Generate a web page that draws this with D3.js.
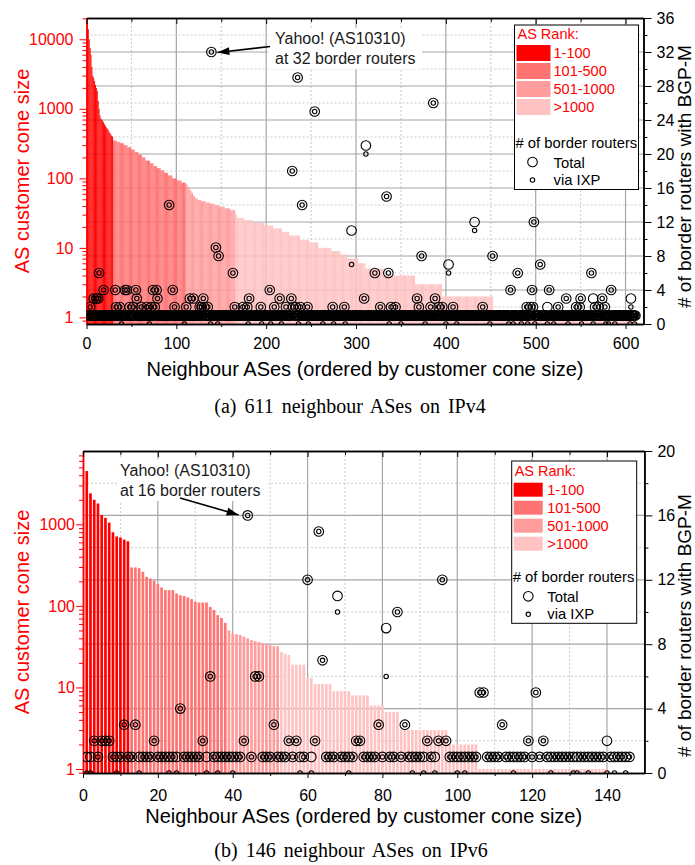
<!DOCTYPE html>
<html>
<head>
<meta charset="utf-8">
<script src="https://cdn.jsdelivr.net/npm/d3@7/dist/d3.min.js"></script>
<style>
  body { margin: 0; background: #fff; }
  svg { display: block; }
  .sans { font-family: "Liberation Sans", Arial, Helvetica, sans-serif; }
  .serif { font-family: "Liberation Serif", "Times New Roman", serif; }
</style>
</head>
<body>
<svg id="figure" width="695" height="865"></svg>
<script>
// ---- values ----

const rankLabels  = ["1-100", "101-500", "501-1000", ">1000"];
const rankColours = ["#ff0000", "#ff7373", "#ff9c9c", "#ffc3c3"];

// IPv4: customer cone size of the 611 neighbours, as [cone size, number of ASes]
const ipv4ConeRuns = [
  [30000, 1], [14000, 1], [10000, 1], [7500, 1], [6000, 1], [4000, 1], [3000, 1], [2800, 1],
  [2500, 1], [2200, 1], [2000, 1], [1800, 1], [1300, 1], [1000, 1], [800, 1], [720, 1],
  [700, 1], [680, 1], [640, 1], [600, 1], [570, 1], [540, 1], [520, 1], [500, 1],
  [470, 1], [450, 1], [430, 1], [410, 1], [400, 1],
  [350, 4], [335, 4], [320, 4], [300, 4], [280, 4], [260, 4], [240, 4], [220, 4], [200, 4],
  [180, 5], [165, 4], [150, 4], [140, 4], [130, 4], [120, 4], [110, 5], [100, 5], [93, 5],
  [87, 4], [85, 1],
  [82, 2], [75, 2], [68, 2], [62, 2], [56, 2], [52, 3], [49, 4], [47, 5], [45, 5], [43, 5],
  [41, 5], [39, 6], [37, 6], [35, 6],
  [30, 2], [27, 8], [25, 10], [23, 12], [21, 10], [19, 10], [17, 8], [15, 12], [13, 10],
  [12, 10], [10, 15], [9, 10], [8, 8], [7, 12], [6, 8], [5, 20], [4, 35], [3, 30], [2, 57],
  [1, 159]
];
// number of IPv4 neighbours in each AS rank group
const ipv4RankCounts = [29, 81, 55, 446];
// IPv4 neighbours seen at more than one border router: [AS #, total, via IXP]
const ipv4Routers = [
  [139, 32, 32], [235, 29, 29], [386, 26, 26], [254, 25, 25], [311, 21, 20], [229, 18, 18],
  [334, 15, 15], [92, 14, 14], [240, 14, 14], [432, 12, 11], [498, 12, 12], [295, 11, 7],
  [144, 9, 9], [147, 8, 8], [373, 8, 8], [452, 8, 8], [403, 7, 6], [505, 7, 7],
  [14, 6, 6], [163, 6, 6], [321, 6, 6], [336, 6, 6], [480, 6, 6], [562, 6, 6],
  [19, 4, 4], [32, 4, 4], [43, 4, 4], [45, 4, 4], [55, 4, 4], [74, 4, 4], [78, 4, 4],
  [96, 4, 4], [204, 4, 4], [472, 4, 4], [496, 4, 4], [515, 4, 4], [584, 4, 4],
  [8, 3, 3], [11, 3, 3], [13, 3, 3], [56, 3, 3], [79, 3, 3], [115, 3, 3], [119, 3, 3],
  [130, 3, 3], [181, 3, 3], [215, 3, 3], [228, 3, 3], [309, 3, 3], [368, 3, 3], [388, 3, 3],
  [534, 3, 3], [550, 3, 3], [564, 3, 0], [574, 3, 3], [606, 3, 2],
  [4, 2, 2], [33, 2, 2], [37, 2, 2], [48, 2, 2], [52, 2, 2], [61, 2, 2], [67, 2, 2],
  [72, 2, 2], [76, 2, 2], [98, 2, 2], [111, 2, 2], [126, 2, 2], [128, 2, 2], [131, 2, 2],
  [135, 2, 2], [165, 2, 2], [174, 2, 2], [179, 2, 2], [194, 2, 2], [209, 2, 2], [222, 2, 2],
  [230, 2, 2], [233, 2, 2], [238, 2, 2], [246, 2, 2], [274, 2, 2], [287, 2, 2], [327, 2, 2],
  [339, 2, 2], [344, 2, 2], [370, 2, 2], [383, 2, 2], [392, 2, 2], [396, 2, 2], [408, 2, 2],
  [441, 2, 2], [490, 2, 2], [494, 2, 2], [497, 2, 2], [513, 2, 0], [525, 2, 2], [545, 2, 2],
  [549, 2, 2], [566, 2, 2], [570, 2, 2], [577, 2, 2]
];
// IPv4 neighbours with a single border router that is not at an IXP
const ipv4NoIxp = [39, 70, 109, 138, 146, 180, 195, 205, 217, 236, 247, 263, 275, 288, 337,
  350, 377, 400, 412, 449, 470, 475, 484, 491, 499, 520, 536, 551, 578, 581, 588, 605, 610];

// IPv6: customer cone size of the 146 neighbours (0 = no bar drawn)
const ipv6Cone = [
  4500, 2400, 2000, 1800, 1300, 1200, 1050, 800, 710, 690, 650, 620,
  296, 296, 290, 262, 227, 217, 203, 185, 168, 156, 156, 156, 142, 135, 132, 127, 121, 113,
  110, 110, 110, 97, 89, 77, 71, 62,
  50, 46, 45, 44, 42, 40, 38, 37, 36, 35, 34, 33, 32, 32,
  27, 26, 25, 19, 19, 19, 19, 13, 13, 11, 11, 11, 11, 11, 9, 9, 9, 9, 9, 8, 8, 8, 8, 8,
  6, 6, 6, 6, 5, 5, 5, 5, 3, 3, 3, 3, 3, 3, 3, 3, 3, 3, 3, 3, 3, 2, 2, 2, 2, 2, 2, 2, 2,
  1, 1, 1, 1, 1, 1, 1, 1, 1, 1, 1, 1, 1, 1, 1, 1, 1, 1, 1, 1, 1, 1, 1, 1, 1, 1, 1, 1, 1, 1,
  1, 1, 1, 1, 1, 0, 0, 0, 0, 0, 0
];
const ipv6RankCounts = [12, 26, 14, 94];
const ipv6Routers = [
  [44, 16, 16], [63, 15, 15], [60, 12, 12], [96, 12, 12], [68, 11, 10], [84, 10, 10],
  [81, 9, 6], [64, 7, 7], [34, 6, 6], [46, 6, 6], [47, 6, 6], [106, 5, 5], [107, 5, 5],
  [121, 5, 5], [26, 4, 4], [11, 3, 3], [14, 3, 3], [51, 3, 3], [79, 3, 3], [86, 3, 3],
  [112, 3, 3],
  [3, 2, 2], [5, 2, 2], [6, 2, 2], [7, 2, 2], [19, 2, 2], [32, 2, 2], [43, 2, 2], [55, 2, 2],
  [57, 2, 2], [62, 2, 2], [73, 2, 2], [74, 2, 2], [92, 2, 2], [95, 2, 2], [97, 2, 2],
  [119, 2, 2], [123, 2, 2], [140, 2, 0]
];
const ipv6NoIxp = [1, 2, 9, 15, 23, 25, 33, 36, 40, 58, 61, 71, 88, 91, 94, 100, 102, 115,
  125, 131, 132, 135, 142, 145];

// ---- helpers ----

const svg = d3.select("#figure");

function expandRuns(runs) {
  return runs.flatMap(([value, count]) => Array(count).fill(value));
}

function rankGroups(counts) {
  return counts.flatMap((count, r) => Array(count).fill(r));
}

function routerTable(n, multi, noIxp) {
  const rows = d3.range(1, n + 1).map(k => ({k: k, total: 1, ixp: noIxp.includes(k) ? 0 : 1}));
  multi.forEach(([k, total, ixp]) => { rows[k - 1].total = total; rows[k - 1].ixp = ixp; });
  return rows;
}

function styleAxis(sel, colour, width) {
  sel.select(".domain").attr("stroke", colour).attr("stroke-width", width);
  sel.selectAll(".tick line").attr("stroke", colour).attr("stroke-width", 1);
  sel.selectAll(".tick text").attr("fill", colour).attr("font-size", 16)
    .attr("font-family", '"Liberation Sans", Arial, sans-serif');
}



// PANEL

function drawPanel(p)
{
  const x = d3.scaleLinear().domain(p.xDomain).range([p.left, p.right]);
  const yCone = d3.scaleLog().domain(p.coneDomain).range([p.bottom, p.top]);
  const yRout = d3.scaleLinear().domain(p.routerDomain).range([p.bottom, p.top]);

  const g = svg.append("g").attr("class", "sans");
  const clipId = p.id + "-clip";
  g.append("clipPath").attr("id", clipId).append("rect")
    .attr("x", p.left).attr("y", p.top)
    .attr("width", p.right - p.left).attr("height", p.bottom - p.top);

  // grid: solid on major ticks, dotted on minor ticks
  const isMajor = (d, step) => Math.abs(d / step - Math.round(d / step)) < 1e-6;
  const xGrid = d3.range(p.xStep / 2, p.xDomain[1], p.xStep / 2);
  const yGrid = d3.range(p.routerStep / 2, p.routerDomain[1], p.routerStep / 2);
  const grid = g.append("g");
  grid.selectAll(".vg").data(xGrid).join("line")
    .attr("x1", d => x(d)).attr("x2", d => x(d))
    .attr("y1", p.top).attr("y2", p.bottom)
    .attr("stroke", d => isMajor(d, p.xStep) ? "#a6a6a6" : "#cccccc")
    .attr("stroke-width", d => isMajor(d, p.xStep) ? 1.2 : 1)
    .attr("stroke-dasharray", d => isMajor(d, p.xStep) ? null : "2,2");
  grid.selectAll(".hg").data(yGrid).join("line")
    .attr("x1", p.left).attr("x2", p.right)
    .attr("y1", d => yRout(d)).attr("y2", d => yRout(d))
    .attr("stroke", d => isMajor(d, p.routerStep) ? "#a6a6a6" : "#cccccc")
    .attr("stroke-width", d => isMajor(d, p.routerStep) ? 1.2 : 1)
    .attr("stroke-dasharray", d => isMajor(d, p.routerStep) ? null : "2,2");

  // bars: customer cone size, coloured by AS rank group
  const bars = p.cone.map((v, i) => ({k: i + 1, v: v, r: p.rank[i]})).filter(d => d.v > 0);
  g.append("g").attr("clip-path", `url(#${clipId})`)
    .selectAll("rect").data(bars).join("rect")
    .attr("x", d => x(d.k - p.barWidth / 2))
    .attr("width", x(p.barWidth) - x(0))
    .attr("y", d => yCone(d.v))
    .attr("height", d => p.bottom - yCone(d.v))
    .attr("fill", d => rankColours[d.r]);

  // axes
  const logMinor = yCone.ticks().filter(d => Math.abs(Math.log10(d) - Math.round(Math.log10(d))) > 1e-6);
  const xMajor = d3.range(0, p.xDomain[1] + 1e-6, p.xStep);
  const xMinor = xGrid.filter(d => !isMajor(d, p.xStep));
  const rMajor = d3.range(0, p.routerDomain[1] + 1e-6, p.routerStep);
  const rMinor = yGrid.filter(d => !isMajor(d, p.routerStep));

  g.append("g").attr("transform", `translate(${p.left},0)`)
    .call(d3.axisLeft(yCone).tickValues(logMinor).tickSize(4).tickSizeOuter(0).tickFormat(""))
    .call(styleAxis, "#ff0000", 1.5);
  g.append("g").attr("transform", `translate(${p.left},0)`)
    .call(d3.axisLeft(yCone).tickValues(p.coneTicks).tickSize(7).tickPadding(p.leftPad)
      .tickSizeOuter(0).tickFormat(d3.format("d")))
    .call(styleAxis, "#ff0000", 1.5);

  g.append("g").attr("transform", `translate(${p.right},0)`)
    .call(d3.axisRight(yRout).tickValues(rMinor).tickSize(4).tickSizeOuter(0).tickFormat(""))
    .call(styleAxis, "#000", 1.5);
  g.append("g").attr("transform", `translate(${p.right},0)`)
    .call(d3.axisRight(yRout).tickValues(rMajor).tickSize(8).tickPadding(5).tickSizeOuter(0))
    .call(styleAxis, "#000", 1.5);

  g.append("g").attr("transform", `translate(0,${p.bottom})`)
    .call(d3.axisBottom(x).tickValues(xMinor).tickSize(3).tickSizeOuter(0).tickFormat(""))
    .call(styleAxis, "#000", 1.5);
  g.append("g").attr("transform", `translate(0,${p.bottom})`)
    .call(d3.axisBottom(x).tickValues(xMajor).tickSize(5).tickPadding(p.bottomPad).tickSizeOuter(0))
    .call(styleAxis, "#000", 1.5);

  g.append("g").attr("transform", `translate(0,${p.top})`)
    .call(d3.axisTop(x).tickValues(xMinor).tickSize(-4).tickSizeOuter(0).tickFormat(""))
    .call(styleAxis, "#000", 1.5);
  g.append("g").attr("transform", `translate(0,${p.top})`)
    .call(d3.axisTop(x).tickValues(xMajor).tickSize(-6).tickSizeOuter(0).tickFormat(""))
    .call(styleAxis, "#000", 1.5);

  // border router markers, against the right axis
  const rows = routerTable(p.cone.length, p.routers, p.noIxp);
  const marks = g.append("g").attr("clip-path", `url(#${clipId})`)
    .attr("fill", "none").attr("stroke", "#000").attr("stroke-width", 1.1);
  marks.selectAll(".total").data(rows).join("circle")
    .attr("cx", d => x(d.k)).attr("cy", d => yRout(d.total)).attr("r", 4.8);
  marks.selectAll(".ixp").data(rows).join("circle")
    .attr("cx", d => x(d.k)).attr("cy", d => yRout(d.ixp)).attr("r", 2.2);

  // axis titles
  const midY = (p.top + p.bottom) / 2;
  g.append("text")
    .attr("transform", `translate(29,${midY}) rotate(-90)`)
    .attr("text-anchor", "middle").attr("font-size", 20).attr("fill", "#ff0000")
    .text("AS customer cone size");
  g.append("text")
    .attr("transform", `translate(690.5,${p.bottom - 16}) rotate(-90)`)
    .attr("text-anchor", "start").attr("font-size", 19).attr("fill", "#000")
    .text("# of border routers with BGP-M");
  g.append("text")
    .attr("x", (p.left + p.right) / 2).attr("y", p.xTitleY)
    .attr("text-anchor", "middle").attr("font-size", 20).attr("fill", "#000")
    .text("Neighbour ASes (ordered by customer cone size)");

  // legend
  const L = p.legend;
  const lg = g.append("g");
  lg.append("rect").attr("x", L.x).attr("y", L.y).attr("width", L.w).attr("height", L.h)
    .attr("fill", "#fff").attr("stroke", "#000").attr("stroke-width", 1);
  lg.append("text").attr("x", L.x + 3).attr("y", L.y + L.titleDy)
    .attr("font-size", 14.5).attr("fill", "#ff0000").text("AS Rank:");
  rankLabels.forEach((label, i) => {
    const y0 = L.y + L.swatchDy + i * 18;
    lg.append("rect").attr("x", L.x + 2).attr("y", y0).attr("width", L.swatchW).attr("height", L.swatchH)
      .attr("fill", rankColours[i]);
    lg.append("text").attr("x", L.x + L.labelDx).attr("y", y0 + L.swatchH / 2 + 5)
      .attr("font-size", 14.5).attr("fill", "#ff0000").text(label);
  });
  lg.append("text").attr("x", L.x + 1).attr("y", L.y + L.routersDy)
    .attr("font-size", 14.8).attr("fill", "#000").text("# of border routers");
  lg.append("circle").attr("cx", L.x + L.markDx).attr("cy", L.y + L.routersDy + 14)
    .attr("r", 4.8).attr("fill", "none").attr("stroke", "#000").attr("stroke-width", 1.1);
  lg.append("text").attr("x", L.x + L.labelDx).attr("y", L.y + L.routersDy + 19.5)
    .attr("font-size", 14.8).text("Total");
  lg.append("circle").attr("cx", L.x + L.markDx).attr("cy", L.y + L.routersDy + 32)
    .attr("r", 2.2).attr("fill", "none").attr("stroke", "#000").attr("stroke-width", 1.1);
  lg.append("text").attr("x", L.x + L.labelDx).attr("y", L.y + L.routersDy + 37)
    .attr("font-size", 14.8).text("via IXP");

  // Yahoo! annotation
  const A = p.note;
  const yahoo = rows[A.k - 1];
  const tip = [x(yahoo.k) + A.tipDx, yRout(yahoo.total) + A.tipDy];
  g.append("rect").attr("x", A.box[0]).attr("y", A.box[1]).attr("width", A.box[2]).attr("height", A.box[3])
    .attr("fill", "#fff");
  g.append("line").attr("x1", A.from[0]).attr("y1", A.from[1]).attr("x2", tip[0]).attr("y2", tip[1])
    .attr("stroke", "#000").attr("stroke-width", 1.6);
  const ang = Math.atan2(tip[1] - A.from[1], tip[0] - A.from[0]);
  const head = [[0, 0], [-12, -4], [-12, 4]].map(([u, v]) => [
    tip[0] + u * Math.cos(ang) - v * Math.sin(ang),
    tip[1] + u * Math.sin(ang) + v * Math.cos(ang)
  ]);
  g.append("polygon").attr("points", head.map(d => d.join(",")).join(" ")).attr("fill", "#000");
  A.lines.forEach((t, i) => {
    g.append("text").attr("x", A.textX).attr("y", A.textY + i * 19.5)
      .attr("font-size", 16).attr("fill", "#1a1a1a").text(t);
  });

  // caption: sub-figure label, a wide gap, then the description
  const cap = svg.append("text").attr("class", "serif")
    .attr("x", p.captionX).attr("y", p.captionY).attr("text-anchor", "middle")
    .attr("font-size", 20).attr("word-spacing", 3).attr("fill", "#000");
  cap.append("tspan").text(p.caption[0]);
  cap.append("tspan").attr("dx", 8).text(p.caption[1]);
}

drawPanel({
  id: "ipv4",
  left: 86.5, right: 643.5, top: 18, bottom: 324,
  xDomain: [0, 620], xStep: 100,
  coneDomain: [0.804, 20230], coneTicks: [1, 10, 100, 1000, 10000],
  routerDomain: [0, 36], routerStep: 4,
  cone: expandRuns(ipv4ConeRuns), rank: rankGroups(ipv4RankCounts),
  routers: ipv4Routers, noIxp: ipv4NoIxp,
  barWidth: 1.1, leftPad: 6, bottomPad: 9, xTitleY: 376,
  legend: {x: 514.5, y: 25, w: 124, h: 164.5, titleDy: 14.3, swatchDy: 20, swatchW: 34, swatchH: 16,
           labelDx: 39, routersDy: 123, markDx: 18},
  note: {k: 139, tipDx: 6, tipDy: 0.5, from: [270, 46.5], box: [268, 28, 154, 41],
         textX: 275, textY: 44, lines: ["Yahoo! (AS10310)", "at 32 border routers"]},
  caption: ["(a)", "611 neighbour ASes on IPv4"], captionX: 350, captionY: 413
});

drawPanel({
  id: "ipv6",
  left: 83, right: 644.4, top: 451, bottom: 773,
  xDomain: [0, 150], xStep: 20,
  coneDomain: [0.893, 7925], coneTicks: [1, 10, 100, 1000],
  routerDomain: [0, 20], routerStep: 4,
  cone: ipv6Cone, rank: rankGroups(ipv6RankCounts),
  routers: ipv6Routers, noIxp: ipv6NoIxp,
  barWidth: 0.72, leftPad: 1, bottomPad: 12, xTitleY: 823,
  legend: {x: 511.7, y: 461, w: 125, h: 162.3, titleDy: 14.7, swatchDy: 21.7, swatchW: 29, swatchH: 14,
           labelDx: 35.6, routersDy: 121.3, markDx: 16.6},
  note: {k: 44, tipDx: -9, tipDy: -0.5, from: [180, 498], box: [118, 459, 150, 42],
         textX: 120, textY: 476, lines: ["Yahoo! (AS10310)", "at 16 border routers"]},
  caption: ["(b)", "146 neighbour ASes on IPv6"], captionX: 351, captionY: 857
});
</script>
</body>
</html>
